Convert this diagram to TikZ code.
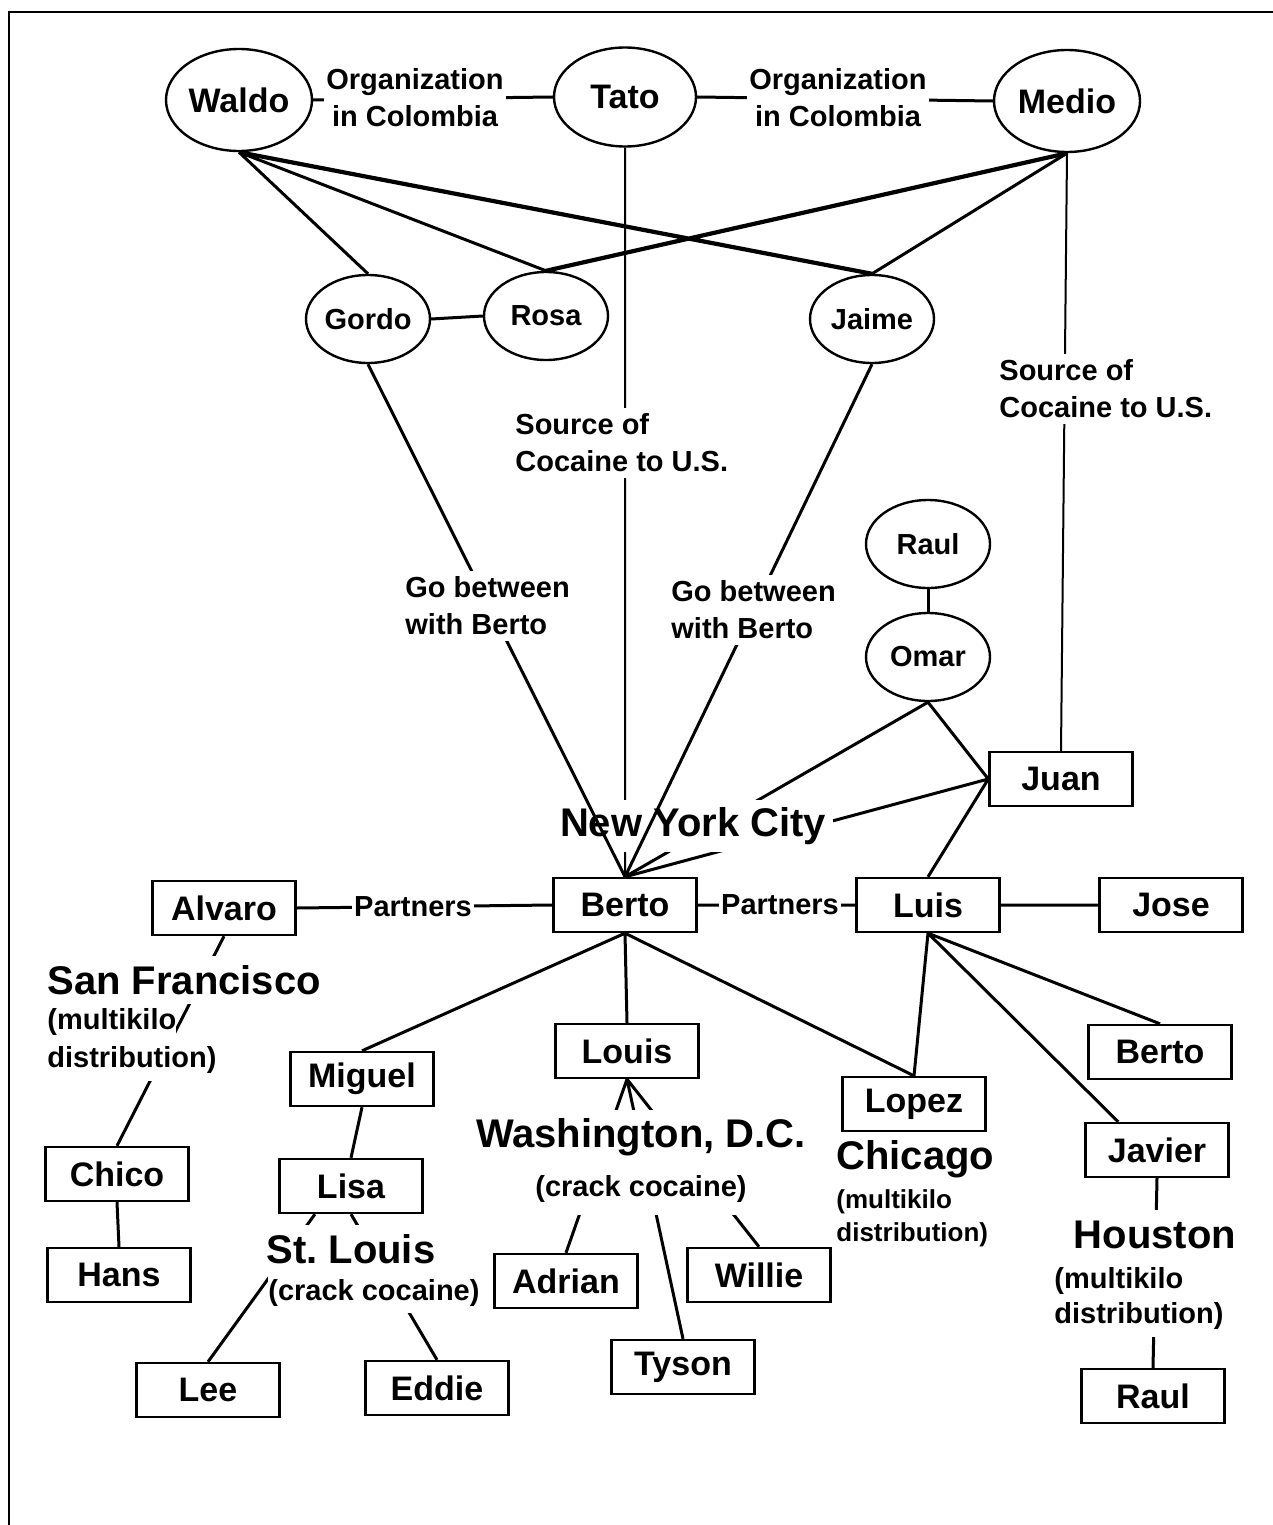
\documentclass[tikz,border=0pt]{standalone}
\usepackage{fontspec}
\setmainfont{Liberation Sans}
\usetikzlibrary{shapes.geometric}

\newcommand{\bossfont}{\fontsize{17}{20}\selectfont\bfseries}
\newcommand{\agentfont}{\fontsize{14.5}{17}\selectfont\bfseries}
\newcommand{\tagfont}{\fontsize{14.5}{18.5}\selectfont\bfseries}
\newcommand{\cityfont}{\fontsize{20}{23}\selectfont\bfseries}
\newcommand{\notefont}{\fontsize{14.5}{17.5}\selectfont\bfseries}
\newcommand{\chinotefont}{\fontsize{13}{16.5}\selectfont\bfseries}

\tikzset{
  boss/.style={ellipse, draw, line width=1.2pt, minimum width=73pt, minimum height=51pt, inner sep=0pt, font=\bossfont},
  agent/.style={ellipse, draw, line width=1.2pt, minimum width=62pt, minimum height=44pt, inner sep=0pt, font=\agentfont},
  dealer/.style={draw, line width=1.2pt, minimum width=71.5pt, minimum height=27pt, inner sep=0pt, font=\bossfont},
  conn/.style={line width=1.5pt},
  boldconn/.style={line width=2.1pt},
  thinconn/.style={line width=1pt},
  tagbox/.style={fill=white, inner xsep=1pt, inner ysep=3pt, font=\tagfont},
  citytext/.style={fill=white, inner sep=0pt, font=\cityfont},
  notetext/.style={fill=white, inner sep=0pt, font=\notefont, align=left}
}

\begin{document}
\begin{tikzpicture}[x=0.5pt, y=-0.5pt]
        \useasboundingbox (0,0) rectangle (1273,1525);
        \draw[line width=1.2pt] (9,1525) -- (9,12) -- (1273,12);

        % Colombia
        \node[boss] (waldo) at (239,100) {Waldo};
        \node[boss, minimum width=71pt, minimum height=49.5pt] (tato) at (625,97) {Tato};
        \node[boss] (medio) at (1067,101) {Medio};
        \node[agent] (gordo) at (368,319) {Gordo};
        \node[agent] (rosa) at (546,316) {Rosa};
        \node[agent] (jaime) at (872,319) {Jaime};
        \node[agent] (raulc) at (928,544) {Raul};
        \node[agent] (omar) at (928,657) {Omar};

        % dealers
        \node[dealer] (juan) at (1061,779) {Juan};
        \node[dealer] (berto) at (625,905) {Berto};
        \node[dealer] (alvaro) at (224,908) {Alvaro};
        \node[dealer] (luis) at (928,905) {Luis};
        \node[dealer] (jose) at (1171,905) {Jose};
        \node[dealer] (miguel) at (362,1079) {Miguel};
        \node[dealer] (louis) at (627,1051) {Louis};
        \node[dealer] (lopez) at (914,1104) {Lopez};
        \node[dealer] (bertob) at (1160,1052) {Berto};
        \node[dealer] (javier) at (1157,1150) {Javier};
        \node[dealer] (chico) at (117,1174) {Chico};
        \node[dealer] (hans) at (119,1275) {Hans};
        \node[dealer] (lisa) at (351,1186) {Lisa};
        \node[dealer] (lee) at (208,1390) {Lee};
        \node[dealer] (eddie) at (437,1388) {Eddie};
        \node[dealer] (adrian) at (566,1281) {Adrian};
        \node[dealer] (willie) at (759,1275) {Willie};
        \node[dealer] (tyson) at (683,1367) {Tyson};
        \node[dealer] (raul) at (1153,1396) {Raul};

        % top links
        \draw[conn] (waldo.east) -- (tato.west) (tato.east) -- (medio.west);
        \draw[conn] (waldo.south) -- (gordo.north) (waldo.south) -- (rosa.north);
        \draw[boldconn] (waldo.south) -- (jaime.north) (medio.south) -- (rosa.north);
        \draw[conn] (medio.south) -- (jaime.north) (gordo.east) -- (rosa.west);
        \draw[conn] (raulc.south) -- (omar.north);
        \draw[thinconn] (tato.south) -- (berto.north) (medio.south) -- (juan.north);
        \draw[conn] (omar.south) -- (berto.north) (omar.south) -- (juan.west);
        \draw[conn] (juan.west) -- (berto.north) (juan.west) -- (luis.north);

        \node[citytext, inner sep=3.5pt] (nyc) at (693,826) {New York City};
        \draw[conn] (gordo.south) -- (berto.north) (jaime.south) -- (berto.north);

        % lower links
        \draw[conn] (alvaro.east) -- (berto.west) (berto.east) -- (luis.west) (luis.east) -- (jose.west);
        \draw[conn] (alvaro.south) -- (chico.north) (chico.south) -- (hans.north);
        \draw[conn] (berto.south) -- (miguel.north) (berto.south) -- (louis.north) (berto.south) -- (lopez.north);
        \draw[conn] (luis.south) -- (lopez.north) (luis.south) -- (bertob.north) (luis.south) -- (javier.144);
        \draw[conn] (javier.south) -- (raul.north);
        \draw[conn] (miguel.south) -- (lisa.north) (lisa.218) -- (lee.north) (lisa.south) -- (eddie.north);
        \draw[conn] (louis.south) -- (adrian.north) (louis.south) -- (tyson.north) (louis.south) -- (willie.north);

        % labels on the links
        \node[tagbox, align=center] (orgl) at (415,98) {Organization\\in Colombia};
        \node[tagbox, align=center] (orgr) at (838,98) {Organization\\in Colombia};
        \node[tagbox, align=left, anchor=west] (srcl) at (513,443) {Source of\\Cocaine to U.S.};
        \node[tagbox, align=left, anchor=west] (srcr) at (997,389) {Source of\\Cocaine to U.S.};
        \node[tagbox, align=left, anchor=west] (gol) at (403,606) {Go between\\with Berto};
        \node[tagbox, align=left, anchor=west] (gor) at (669,610) {Go between\\with Berto};
        \node[tagbox, inner ysep=1pt] (partl) at (413,907) {Partners};
        \node[tagbox, inner ysep=1pt] (partr) at (780,905) {Partners};

        % cities
        \node[citytext, anchor=west, minimum height=24pt] (sf) at (47,980) {San Francisco};
        \node[notetext, anchor=west, minimum height=18pt] (sfa) at (47,1022) {(multikilo};
        \node[notetext, anchor=west, minimum height=20.5pt] (sfb) at (47,1060) {distribution)};
        \node[citytext, minimum height=27pt] (dc) at (641,1137) {Washington, D.C.};
        \node[notetext, minimum height=26pt] (dcnote) at (641,1189) {(crack cocaine)};
        \node[citytext, anchor=west, minimum height=24pt] (stl) at (266,1249) {St.\ Louis};
        \node[notetext, anchor=west, minimum height=20pt] (stlnote) at (268,1293) {(crack cocaine)};
        \node[citytext, anchor=west] (chi) at (836,1159) {Chicago};
        \node[font=\chinotefont, align=left, anchor=north west, inner sep=0pt] (chinote) at (836,1189) {(multikilo\\distribution)};
        \node[citytext, minimum height=25pt] (hou) at (1155,1235) {Houston};
        \node[notetext, anchor=north west, inner ysep=4pt] (hounote) at (1054,1259) {(multikilo\\distribution)};
    \end{tikzpicture}
\end{document}
